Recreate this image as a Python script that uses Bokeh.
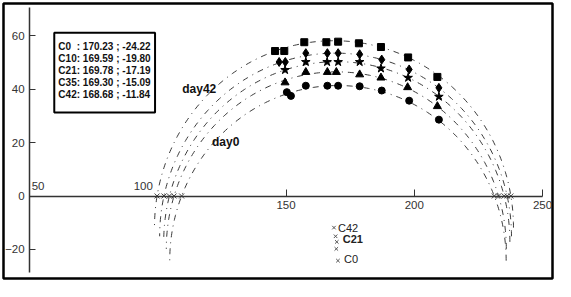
import numpy as np
from bokeh.plotting import figure
from bokeh.models import Range1d, FixedTicker
from bokeh.core.properties import value
from bokeh.embed import file_html
from bokeh.resources import INLINE

# ---- data ----
series = ["C0", "C10", "C21", "C35", "C42"]
center_x = [170.23, 169.59, 169.78, 169.30, 168.68]
center_y = [-24.22, -19.80, -17.19, -15.09, -11.84]
radius = [65.6, 66.3, 67.5, 68.6, 70.0]
legend_lines = ["C0\u00a0\u00a0: 170.23 ; -24.22", "C10: 169.59 ; -19.80", "C21: 169.78 ; -17.19",
                "C35: 169.30 ; -15.09", "C42: 168.68 ; -11.84"]

c0_x = [150.3, 151.9, 157.7, 166.1, 170.3, 178.7, 187.3, 198.0, 209.6]
c0_y = [38.9, 37.5, 41.3, 41.3, 41.3, 41.1, 39.5, 35.7, 28.6]
c10_x = [149.6, 157.7, 166.1, 169.6, 178.7, 187.0, 197.4, 209.0]
c10_y = [42.5, 46.4, 46.4, 46.4, 45.5, 44.3, 40.7, 33.6]
c21_x = [149.6, 157.7, 166.0, 170.3, 178.7, 187.0, 197.6, 209.6]
c21_y = [47.2, 50.2, 50.2, 50.2, 50.2, 47.8, 44.3, 37.2]
c35_x = [147.3, 149.7, 157.7, 166.1, 170.3, 178.7, 187.3, 198.0, 209.6]
c35_y = [50.2, 50.2, 53.5, 53.5, 53.5, 53.1, 51.1, 47.4, 40.5]
c42_x = [145.7, 149.3, 157.1, 165.7, 170.3, 178.4, 187.0, 197.6, 209.0]
c42_y = [54.3, 54.3, 57.6, 57.6, 57.8, 57.2, 55.8, 51.9, 44.6]

y_ticks = [-20, 0, 20, 40, 60]
x_ticks_below = [150, 200, 250]
x_ticks_above = [50, 100]

FONT = "Liberation Sans"

p = figure(width=555, height=281, x_range=Range1d(39.8, 253.9), y_range=Range1d(-30.9, 72.1),
           output_backend="svg", toolbar_location=None, min_border=3)
p.grid.visible = False
p.outline_line_color = "black"
p.outline_line_width = 2.5
p.background_fill_color = "white"

xa = p.xaxis[0]
xa.fixed_location = 0
xa.bounds = (50, 250)
xa.ticker = FixedTicker(ticks=x_ticks_below)
xa.major_tick_in = 7
xa.major_tick_out = 0
xa.minor_tick_line_color = None
xa.major_label_standoff = 5
xa.axis_line_color = "#333333"
xa.axis_line_width = 1.5
xa.major_tick_line_color = "#333333"
xa.major_label_text_font = FONT
xa.major_label_text_font_size = "11.5px"
xa.major_label_text_color = "#333333"

ya = p.yaxis[0]
ya.fixed_location = 50
ya.bounds = (-28.8, 70.6)
ya.ticker = FixedTicker(ticks=y_ticks)
ya.major_tick_in = 6
ya.major_tick_out = 0
ya.minor_tick_line_color = None
ya.major_label_standoff = 5
ya.axis_line_color = "#333333"
ya.axis_line_width = 1.5
ya.major_tick_line_color = "#333333"
ya.major_label_text_font = FONT
ya.major_label_text_font_size = "11.5px"
ya.major_label_text_color = "#333333"

# labels 50 and 100 placed above the axis line
p.text(x=[x_ticks_above[0]], y=[0], text=[str(x_ticks_above[0])], x_offset=2, y_offset=-6,
       text_align="left", text_baseline="bottom", text_font=value(FONT),
       text_font_size="11.5px", text_color="#333333")
p.text(x=[x_ticks_above[1]], y=[0], text=[str(x_ticks_above[1])], x_offset=-5, y_offset=-6,
       text_align="right", text_baseline="bottom", text_font=value(FONT),
       text_font_size="11.5px", text_color="#333333")

# fitted semicircles
for cx, cy, r in zip(center_x, center_y, radius):
    th = np.linspace(0, np.pi, 241)
    p.line(cx + r * np.cos(th), cy + r * np.sin(th), line_color="#3a3a3a", line_width=1,
           line_dash="6 5 1 5")

# intercepts with the real axis
for cx, cy, r in zip(center_x, center_y, radius):
    h = np.sqrt(r ** 2 - cy ** 2)
    p.scatter([cx - h, cx + h], [0, 0], marker="x", size=7, line_color="#444444", line_width=1)

# centres
p.scatter(center_x, center_y, marker="x", size=5, line_color="#555555", line_width=1)
lab_idx = [4, 2, 0]
p.text(x=[center_x[i] for i in lab_idx], y=[center_y[i] for i in lab_idx],
       text=[series[i] for i in lab_idx], x_offset=[4, 6, 6], y_offset=[0, -3, -2],
       text_align="left", text_baseline="middle", text_font=value(FONT),
       text_font_size="11px", text_color="#222222",
       text_font_style=["normal", "bold", "normal"])

# data points
mk = dict(fill_color="black", line_color="black")
p.scatter(c0_x, c0_y, marker="circle", size=7, **mk)
p.scatter(c10_x, c10_y, marker="triangle", size=8, **mk)
p.scatter(c21_x, c21_y, marker="star", size=9, **mk)
p.scatter(c35_x, c35_y, marker="diamond", size=9, **mk)
p.scatter(c42_x, c42_y, marker="square", size=7, **mk)

# day labels
p.text(x=[109.5, 121.1], y=[39.9, 20.1], text=["day42", "day0"], text_align="left",
       text_baseline="middle", text_font=value(FONT), text_font_size="12px",
       text_font_style="bold", text_color="#111111")

# parameter box
p.quad(left=[59.6], right=[98.9], bottom=[31.3], top=[61.1], fill_color="white",
       line_color="black", line_width=2)
p.text(x=[61.2] * 5, y=[56.1, 51.6, 47.0, 42.5, 38.0], text=legend_lines, text_align="left",
       text_baseline="middle", text_font=value(FONT), text_font_size="10px",
       text_font_style="bold", text_color="#111111")

open("out.html", "w").write(file_html(p, INLINE))
